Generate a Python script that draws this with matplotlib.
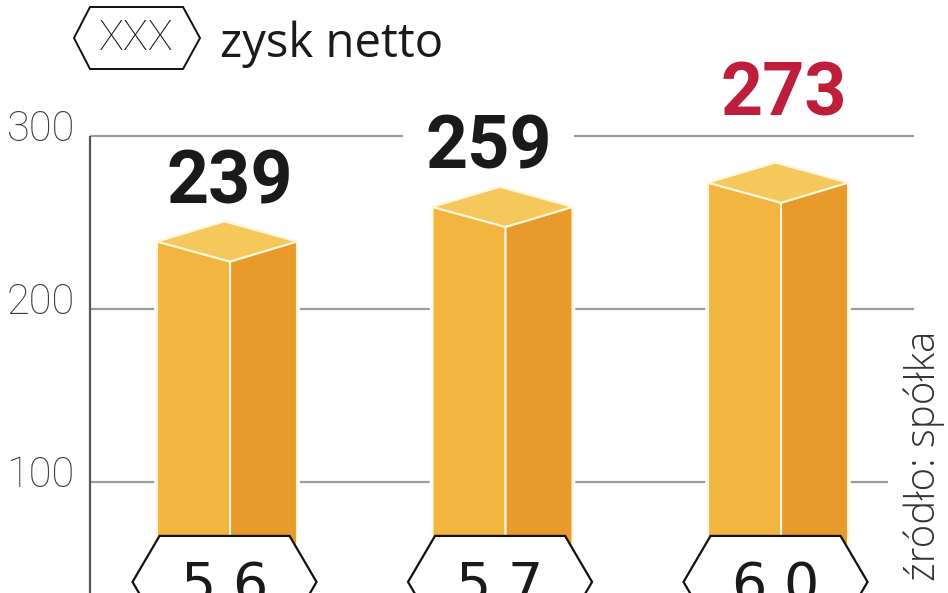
import matplotlib
matplotlib.use('Agg')
import matplotlib.pyplot as plt
from matplotlib.patches import Polygon

# data
profit = [239, 259, 273]
hex_labels = ['5,6', '5,7', '6,0']
yticks = [100, 200, 300]
highlight = 2

W, H = 948, 593
fig = plt.figure(figsize=(W / 100, H / 100), dpi=100)
fig.patch.set_facecolor('white')
ax = fig.add_axes([0, 0, 1, 1])
ax.axis('off')
ax.set_xlim(-0.835, 2.606)
ax.set_ylim(35.8, 378.6)

light = dict(family='Roboto', fontweight='light')
narrow = ['Liberation Sans Narrow', 'DejaVu Sans Condensed', 'DejaVu Sans']

# bar geometry (data units)
wl, wr, d = 0.265, 0.243, 11.6
c_left, c_right, c_top = '#F2B640', '#E89A2A', '#F5C85C'
sep = '#FFF6DC'

# gridlines + y axis
x_axis, x_end = -0.508, 2.483
ax.hlines(yticks, x_axis, x_end, color='#9C9C9C', lw=1.6, zorder=1)
ax.vlines(x_axis, 0, 300, color='#555555', lw=1.6, zorder=1)
for t in yticks:
    ax.text(-0.563, t + 3.5, str(t), ha='right', va='center', fontsize=30,
            color='#3a3a3a', **light)

for i, v in enumerate(profit):
    x = i
    bx = x - 0.02
    # white halo so the gridlines stop short of the bar
    halo = Polygon([(x - wl, 0), (x - wl, v), (bx, v + d), (x + wr, v), (x + wr, 0)],
                   closed=True, facecolor='white', edgecolor='white', lw=4, zorder=3)
    ax.add_patch(halo)
    ax.add_patch(Polygon([(x - wl, 0), (x - wl, v), (x, v - d), (x, 0)],
                         closed=True, facecolor=c_left, edgecolor=sep, lw=1.5, zorder=4))
    ax.add_patch(Polygon([(x, 0), (x, v - d), (x + wr, v), (x + wr, 0)],
                         closed=True, facecolor=c_right, edgecolor=sep, lw=1.5, zorder=4))
    ax.add_patch(Polygon([(x - wl, v), (x, v - d), (x + wr, v), (bx, v + d)],
                         closed=True, facecolor=c_top, edgecolor=sep, lw=1.5, zorder=4))

    # value label
    cx = x + (wr - wl) / 2
    if i == highlight:
        ax.text(cx + 0.02, 312, str(v), ha='center', va='baseline', fontsize=53,
                family='Roboto', fontweight='bold', color='#BE1E3C', zorder=2)
    else:
        box = None
        if v + 52 > 300:
            box = dict(boxstyle='square,pad=0.3', facecolor='white', edgecolor='none')
        ax.text(cx - (0.05 if box else -0.01), v + 22, str(v), ha='center', va='baseline',
                fontsize=53, family='Roboto', fontweight='bold', color='#1a1a1a',
                zorder=2, bbox=box)

    # hexagon label at the foot of the bar
    hx = x - 0.02
    hexa = Polygon([(hx - 0.236, 68.8), (hx + 0.236, 68.8), (hx + 0.334, 42.2),
                    (hx + 0.236, 15.6), (hx - 0.236, 15.6), (hx - 0.334, 42.2)],
                   closed=True, facecolor='white', edgecolor='#111111', lw=1.6, zorder=5)
    ax.add_patch(hexa)
    ax.text(hx, 30.6, hex_labels[i], ha='center', va='baseline', fontsize=40,
            family=narrow, color='#1a1a1a', zorder=6)

# source
ax.text(2.519, 187.5, 'źródło: spółka', rotation=90, ha='center', va='top',
        fontsize=29, color='#333333', zorder=2, family='Open Sans', fontweight='light',
        bbox=dict(boxstyle='square,pad=0.38', facecolor='white', edgecolor='none'))

# legend
def fp(px, py):
    return px / W, 1 - py / H

leg = Polygon([fp(74, 38), fp(90, 7), fp(183, 7), fp(200, 38), fp(183, 69), fp(90, 69)],
              closed=True, facecolor='white', edgecolor='#111111', lw=1.4,
              transform=fig.transFigure, zorder=5)
fig.patches.append(leg)
fig.text(*fp(136, 38), 'XXX', ha='center', va='center', fontsize=30,
         color='#1a1a1a', zorder=6, **light)
fig.text(*fp(220, 57), 'zysk netto', ha='left', va='baseline', fontsize=34,
         family='Open Sans', color='#1a1a1a', zorder=6)

fig.savefig('out.png', dpi=100, facecolor='white')
